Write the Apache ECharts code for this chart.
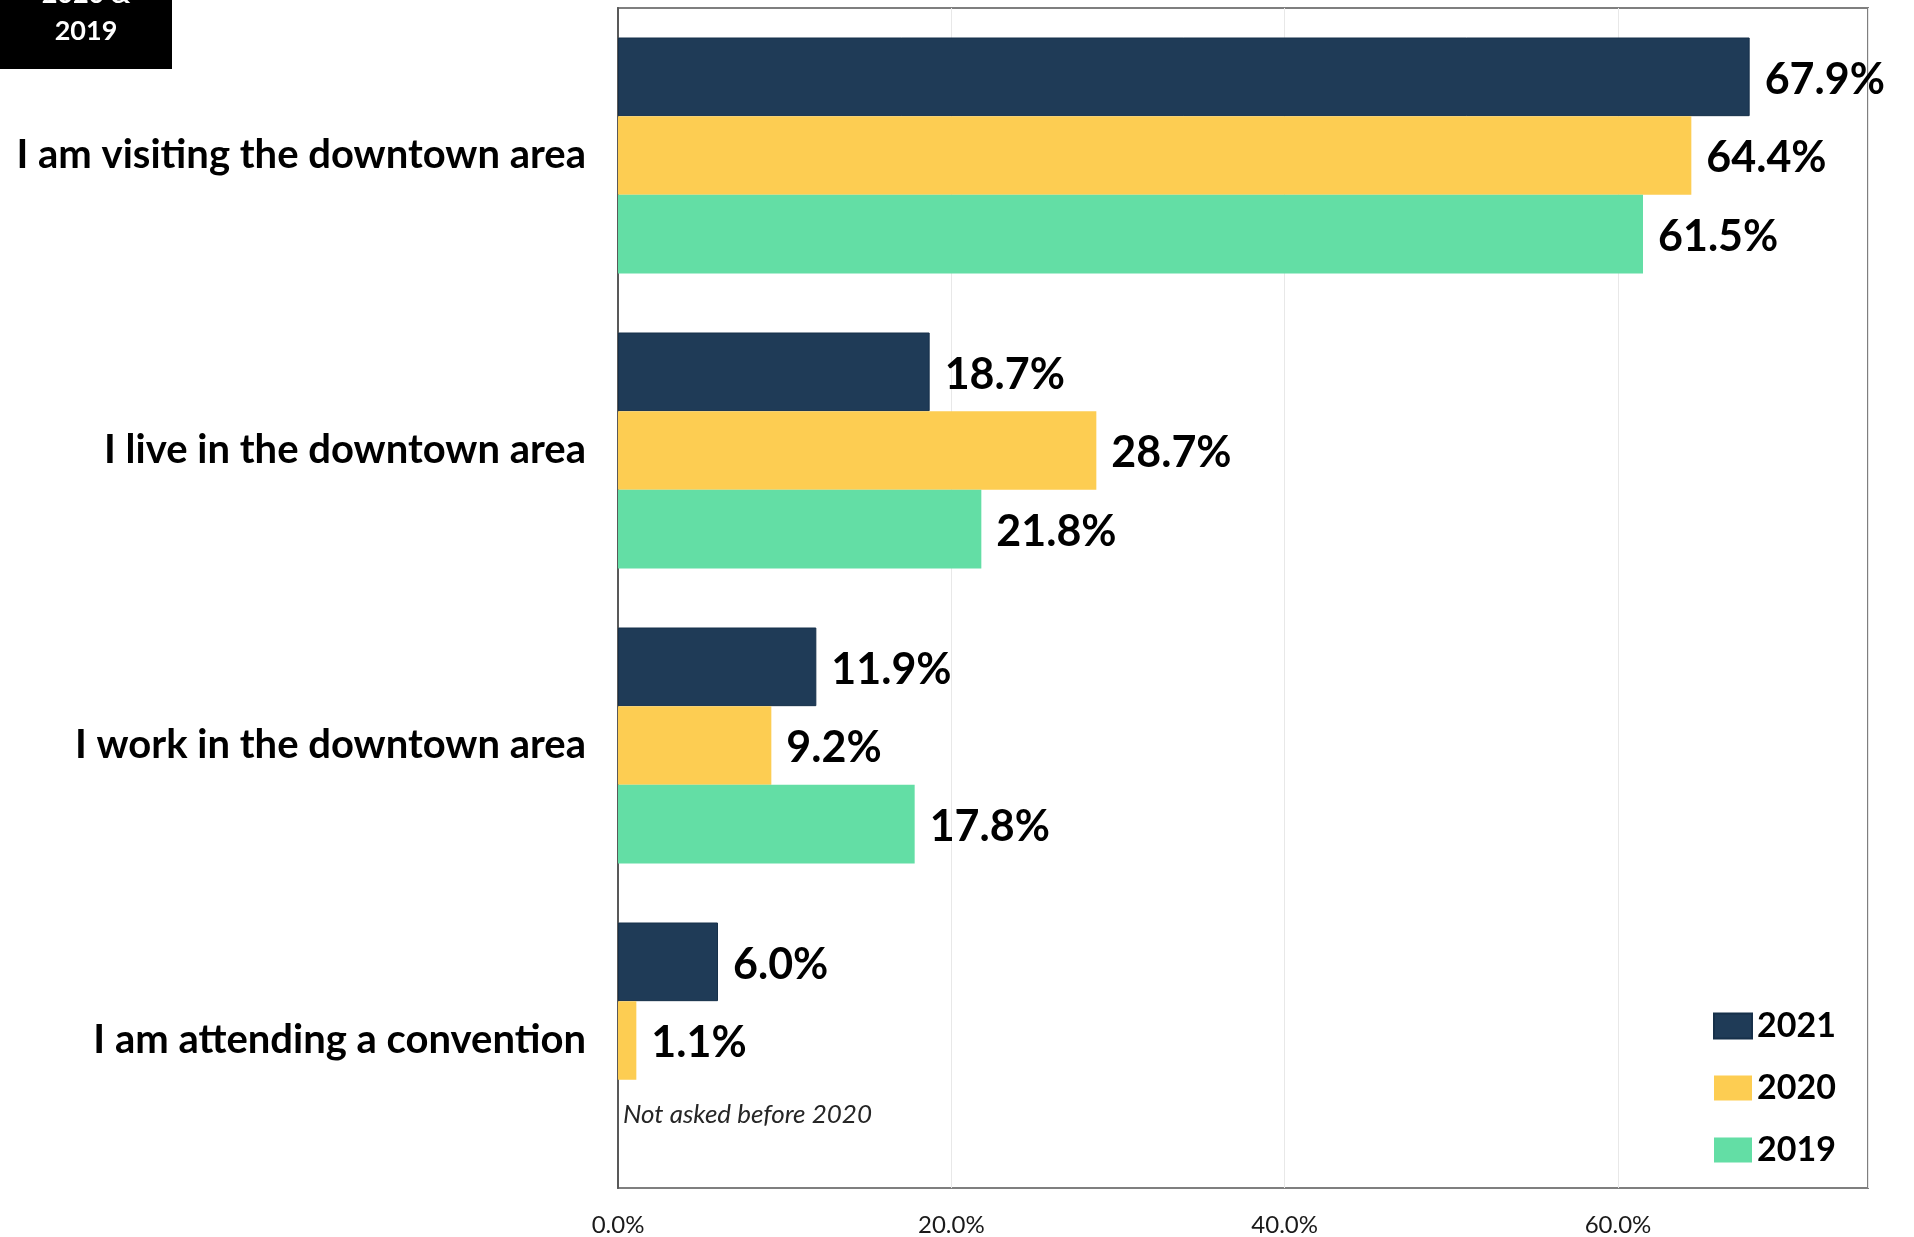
<!DOCTYPE html>
<html>
<head>
<meta charset="utf-8">
<title>Reason for being downtown</title>
<script src="https://cdn.jsdelivr.net/npm/echarts@6/dist/echarts.min.js"></script>
<style>
  html, body { margin: 0; padding: 0; background: #ffffff; }
  #chart { width: 1914px; height: 1237px; }
</style>
</head>
<body>
<div id="chart"></div>
<script>
// Survey responses: why respondents were downtown (share of respondents, %)
const categories = [
  'I am visiting the downtown area',
  'I live in the downtown area',
  'I work in the downtown area',
  'I am attending a convention'
];
const years = ['2021', '2020', '2019'];
const values2021 = [67.9, 18.7, 11.9, 6.0];
const values2020 = [64.4, 28.7, 9.2, 1.1];
const values2019 = [61.5, 21.8, 17.8, null]; // convention question not asked before 2020
const xTicks = [0, 20, 40, 60];
const noteText = 'Not asked before 2020';
const cornerLines = ['2020 &', '2019'];

const colors = { '2021': '#1f3b57', '2020': '#fdcd52', '2019': '#63dea5' };
const FONT = 'Lato, "Open Sans", "Noto Sans", sans-serif';

const chart = echarts.init(document.getElementById('chart'), null, { renderer: 'canvas' });

function barSeries(name, data) {
  return {
    name: name,
    type: 'bar',
    data: data,
    barGap: '0%',
    barCategoryGap: '20%',
    itemStyle: {
      color: colors[name],
      borderColor: name === '2021' ? '#16304a' : colors[name],
      borderWidth: name === '2021' ? 1 : 0
    },
    label: {
      show: true,
      position: 'right',
      distance: 15,
      offset: [0, 3],
      fontFamily: FONT,
      fontWeight: 'bold',
      fontSize: 43,
      color: '#000000',
      formatter: p => (p.value == null ? '' : p.value.toFixed(1) + '%')
    }
  };
}

const option = {
  animation: false,
  backgroundColor: '#ffffff',
  grid: {
    left: 618,
    right: 46,
    top: 8,
    bottom: 49,
    show: true,
    borderColor: '#7f7f7f',
    borderWidth: 2,
    containLabel: false
  },
  legend: {
    orient: 'vertical',
    left: 1713,
    top: 1009,
    padding: 0,
    itemWidth: 38,
    itemHeight: 25,
    itemGap: 28,
    icon: 'rect',
    data: years,
    textStyle: {
      fontFamily: FONT,
      fontWeight: 'bold',
      fontSize: 34,
      lineHeight: 33,
      color: '#000000'
    }
  },
  xAxis: {
    type: 'value',
    min: 0,
    max: 75,
    interval: 20,
    axisLine: { show: false },
    axisTick: { show: false },
    splitLine: { show: true, lineStyle: { color: '#e8e8e8', width: 1 } },
    axisLabel: {
      margin: 25,
      fontFamily: FONT,
      fontSize: 24,
      color: '#1a1a1a',
      showMaxLabel: false,
      formatter: v => (xTicks.indexOf(v) >= 0 ? v.toFixed(1) + '%' : '')
    }
  },
  yAxis: {
    type: 'category',
    data: categories,
    inverse: true,
    axisTick: { show: false },
    axisLine: { show: true, lineStyle: { color: '#595959', width: 2 } },
    axisLabel: {
      margin: 32,
      padding: [5, 0, 0, 0],
      fontFamily: FONT,
      fontWeight: 'bold',
      fontSize: 40,
      color: '#000000'
    }
  },
  series: [
    barSeries('2021', values2021),
    barSeries('2020', values2020),
    barSeries('2019', values2019)
  ]
};

chart.setOption(option);

// Place the note in the empty 2019 slot of the last category, and the corner tag
const lastCat = categories[categories.length - 1];
const catY = chart.convertToPixel({ yAxisIndex: 0 }, lastCat);
const nextY = chart.convertToPixel({ yAxisIndex: 0 }, categories[categories.length - 2]);
const band = Math.abs(catY - nextY);
const x0 = chart.convertToPixel({ xAxisIndex: 0 }, 0);

chart.setOption({
  graphic: [
    {
      type: 'text',
      x: x0 + 5,
      y: catY + band * 0.25,
      style: {
        text: noteText,
        fontFamily: FONT,
        fontStyle: 'italic',
        fontSize: 26,
        fill: '#262626',
        verticalAlign: 'middle'
      }
    },
    {
      type: 'rect',
      x: 0,
      y: 0,
      shape: { x: 0, y: 0, width: 172, height: 69 },
      style: { fill: '#000000' }
    },
    {
      type: 'text',
      x: 86,
      y: 50,
      style: {
        text: cornerLines.join('\n'),
        fontFamily: FONT,
        fontWeight: 'bold',
        fontSize: 27,
        lineHeight: 37,
        fill: '#ffffff',
        align: 'center',
        verticalAlign: 'bottom'
      }
    }
  ]
});
</script>
</body>
</html>
